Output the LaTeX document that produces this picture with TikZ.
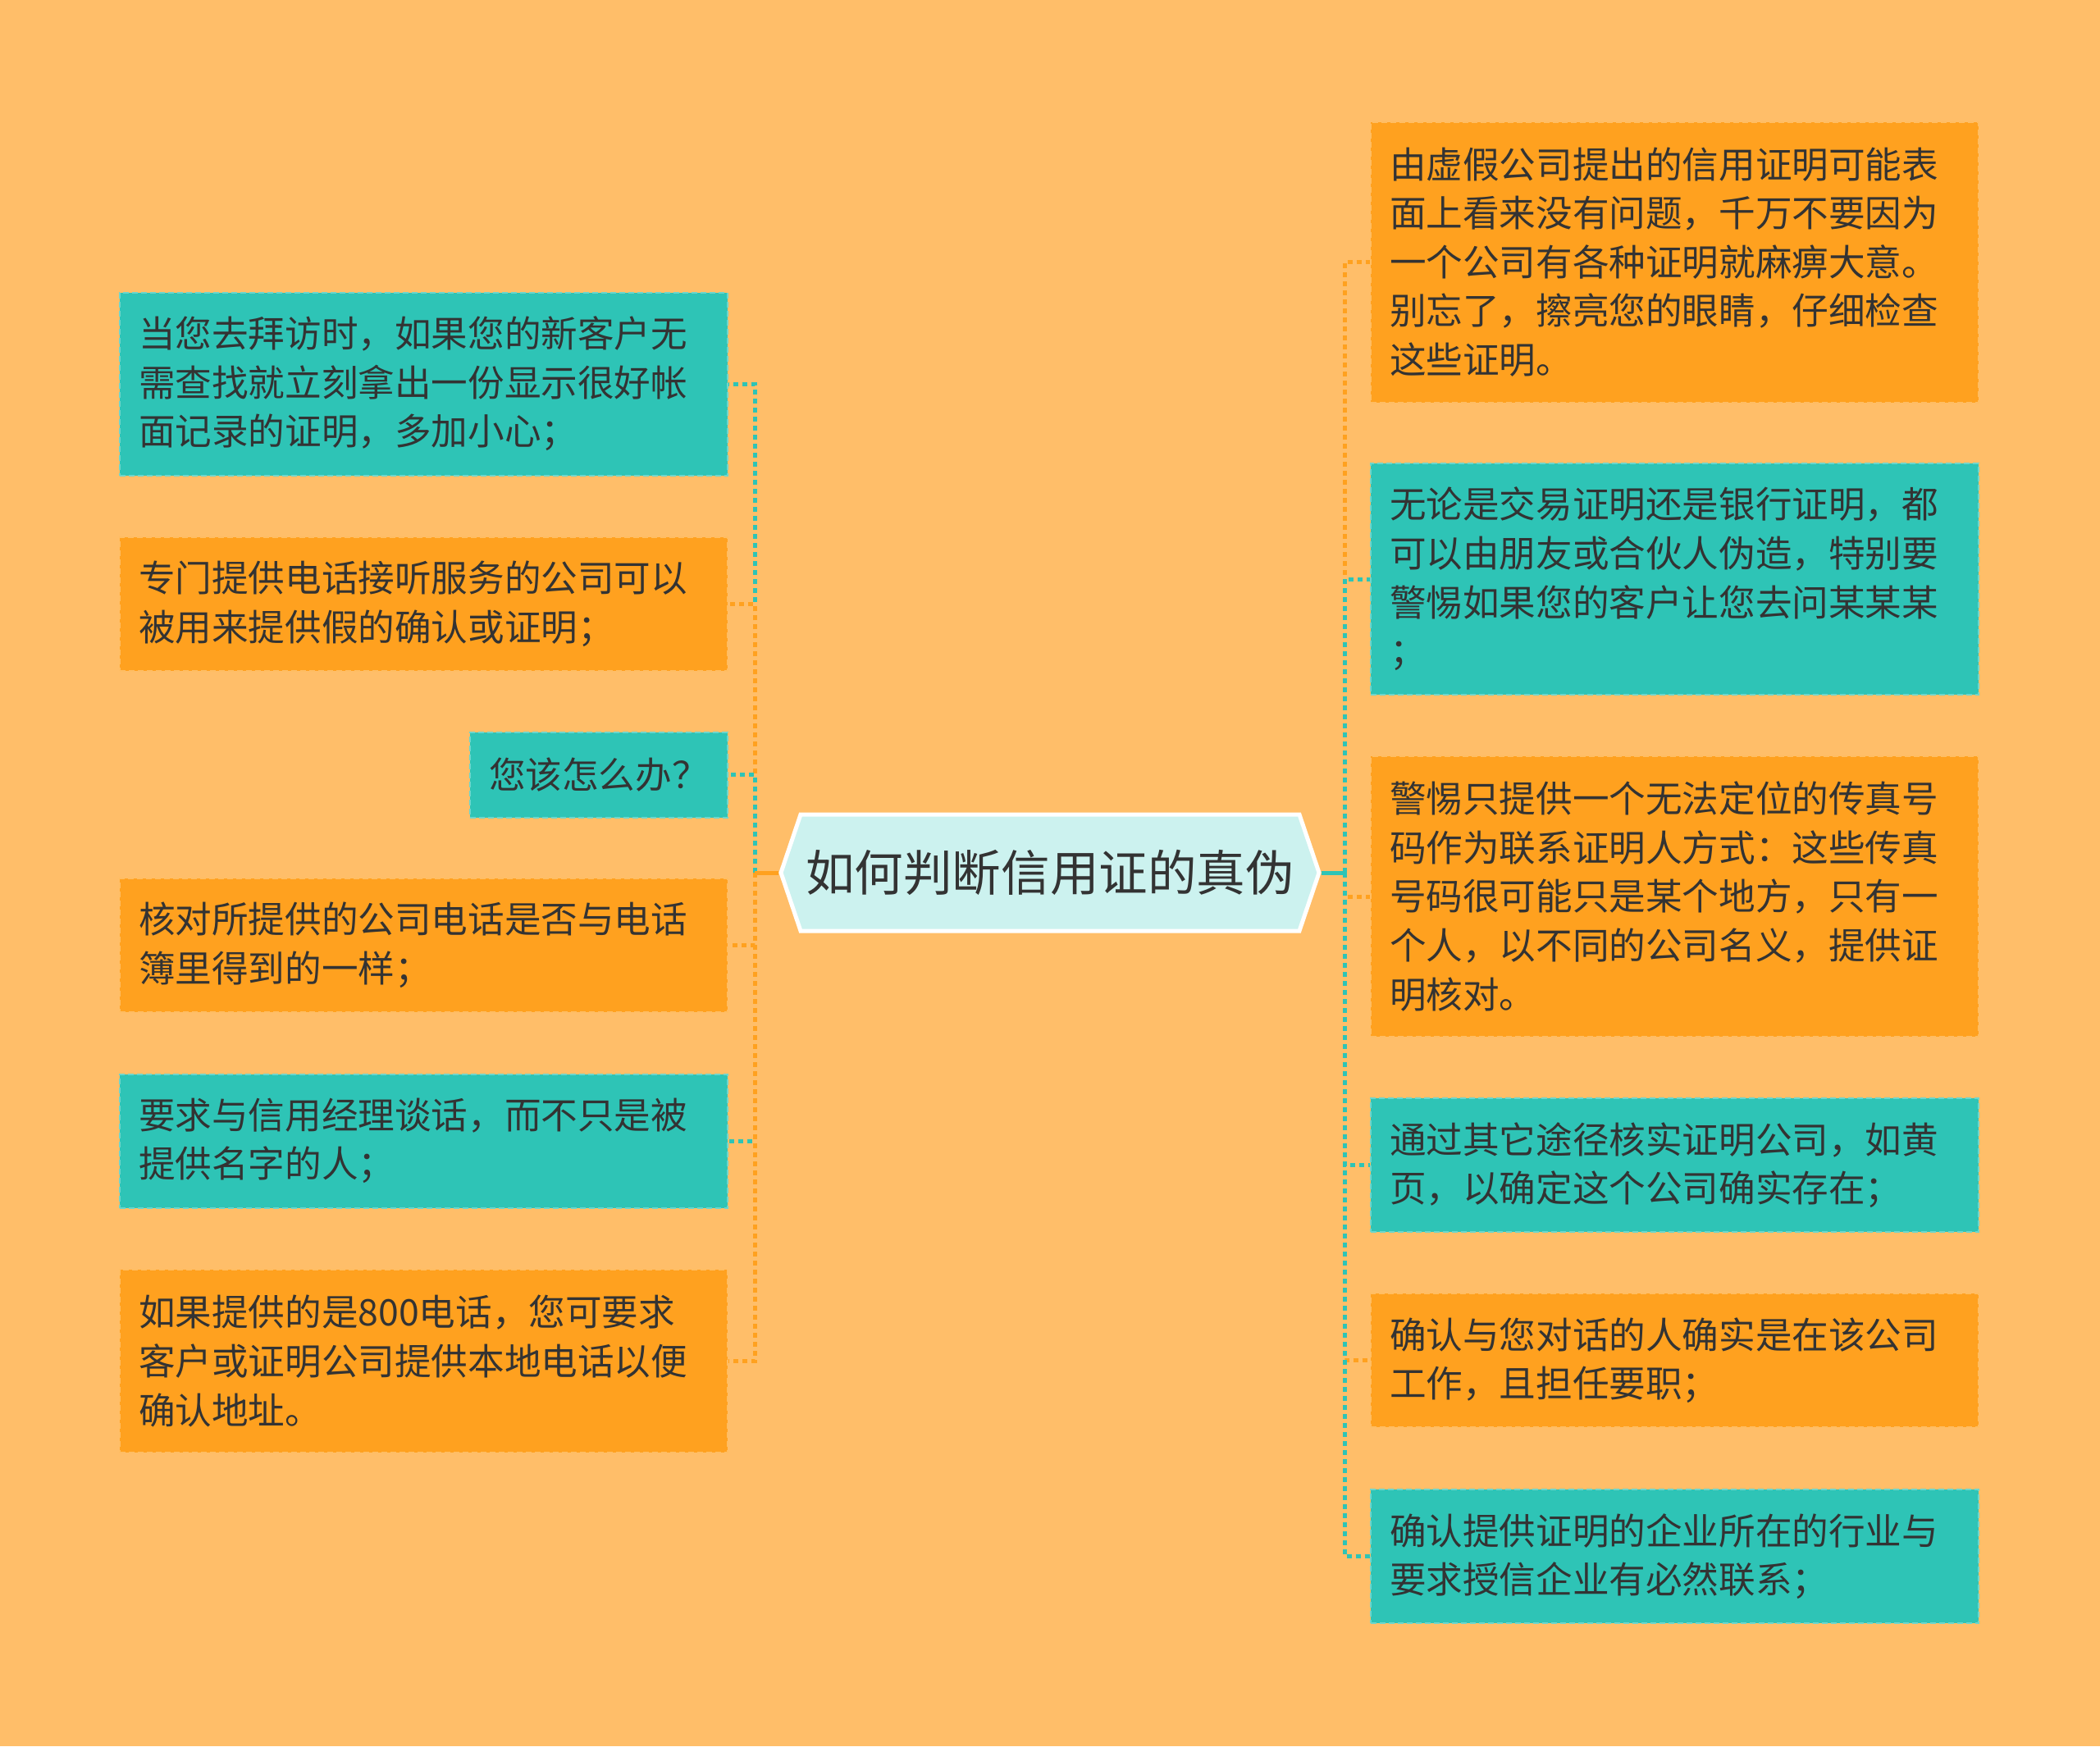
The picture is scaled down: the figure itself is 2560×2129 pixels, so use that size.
\documentclass[tikz,border=0pt]{standalone}
\usepackage{fontspec}
\setmainfont{Noto Sans CJK SC}
\usetikzlibrary{positioning, calc, shapes.symbols}

\definecolor{bgpaper}{HTML}{FFBE69}
\definecolor{tealbox}{HTML}{2EC4B6}
\definecolor{orangebox}{HTML}{FFA11F}
\definecolor{rootfill}{HTML}{CCF2EF}
\definecolor{ink}{HTML}{333333}

\tikzset{
    leaf/.style={rectangle, text width=695pt, align=left, inner xsep=23pt, inner ysep=0pt,
        text=ink, font=\fontsize{44.6pt}{59.6pt}\selectfont,
        line width=2pt, dash pattern=on 7pt off 4pt},
    tealleaf/.style={leaf, fill=tealbox, draw=tealbox!70!white},
    orangeleaf/.style={leaf, fill=orangebox, draw=orangebox!70!white},
    link/.style={line width=5pt, dash pattern=on 6pt off 5pt},
    stub/.style={line width=5pt},
}

\begin{document}
\begin{tikzpicture}[x=1pt, y=-1pt]

    % ---------------------------------------------------
    % Paper
    % ---------------------------------------------------
    \fill[bgpaper] (0,0) rectangle (2560,2129);
    \useasboundingbox (0,0) rectangle (2560,2129);

    % ---------------------------------------------------
    % Root
    % ---------------------------------------------------
    \node[signal, signal to=west and east, signal pointer angle=142.6,
          minimum width=656pt, minimum height=142pt, inner sep=0pt,
          fill=rootfill, draw=white, line width=5pt,
          text=ink, font=\fontsize{59.6pt}{70pt}\selectfont] (root) at (1280,1064) {如何判断信用证的真伪};

    \coordinate (ltrunk) at (920,1064);
    \coordinate (rtrunk) at (1639,1064);

    % ---------------------------------------------------
    % Left branch
    % ---------------------------------------------------
    \node[tealleaf, minimum height=223pt, anchor=east] (lc1) at (888,468)
        {当您去拜访时，如果您的新客户无\\需查找就立刻拿出一份显示很好帐\\面记录的证明，多加小心；};
    \node[orangeleaf, minimum height=163pt, anchor=east] (lc2) at (888,736.5)
        {专门提供电话接听服务的公司可以\\被用来提供假的确认或证明；};
    \node[tealleaf, text width=268pt, minimum height=104pt, anchor=east] (lc3) at (888,944.5)
        {您该怎么办？};
    \node[orangeleaf, minimum height=163pt, anchor=east] (lc4) at (888,1152.5)
        {核对所提供的公司电话是否与电话\\簿里得到的一样；};
    \node[tealleaf, minimum height=163pt, anchor=east] (lc5) at (888,1391)
        {要求与信用经理谈话，而不只是被\\提供名字的人；};
    \node[orangeleaf, minimum height=223pt, anchor=east] (lc6) at (888,1659.5)
        {如果提供的是800电话，您可要求\\客户或证明公司提供本地电话以便\\确认地址。};

    % ---------------------------------------------------
    % Right branch
    % ---------------------------------------------------
    \node[orangeleaf, minimum height=342pt, anchor=west] (rc1) at (1670,319.5)
        {由虚假公司提出的信用证明可能表\\面上看来没有问题，千万不要因为\\一个公司有各种证明就麻痹大意。\\别忘了，擦亮您的眼睛，仔细检查\\这些证明。};
    \node[tealleaf, minimum height=282pt, anchor=west] (rc2) at (1670,706)
        {无论是交易证明还是银行证明，都\\可以由朋友或合伙人伪造，特别要\\警惕如果您的客户让您去问某某某\\；};
    \node[orangeleaf, minimum height=342pt, anchor=west] (rc3) at (1670,1093)
        {警惕只提供一个无法定位的传真号\\码作为联系证明人方式：这些传真\\号码很可能只是某个地方，只有一\\个人，以不同的公司名义，提供证\\明核对。};
    \node[tealleaf, minimum height=163pt, anchor=west] (rc4) at (1670,1420.5)
        {通过其它途径核实证明公司，如黄\\页，以确定这个公司确实存在；};
    \node[orangeleaf, minimum height=163pt, anchor=west] (rc5) at (1670,1658.5)
        {确认与您对话的人确实是在该公司\\工作，且担任要职；};
    \node[tealleaf, minimum height=163pt, anchor=west] (rc6) at (1670,1897.5)
        {确认提供证明的企业所在的行业与\\要求授信企业有必然联系；};

    % ---------------------------------------------------
    % Connectors
    % ---------------------------------------------------
    \foreach \i/\c in {1/tealbox, 2/orangebox, 3/tealbox, 4/orangebox, 5/tealbox, 6/orangebox}
        \draw[link, \c] (ltrunk) |- (lc\i.east);
    \foreach \i/\c in {1/orangebox, 2/tealbox, 3/orangebox, 4/tealbox, 5/orangebox, 6/tealbox}
        \draw[link, \c] (rtrunk) |- (rc\i.west);
    \draw[stub, orangebox] (root.west) -- (ltrunk);
    \draw[stub, tealbox] (root.east) -- (rtrunk);

\end{tikzpicture}
\end{document}
